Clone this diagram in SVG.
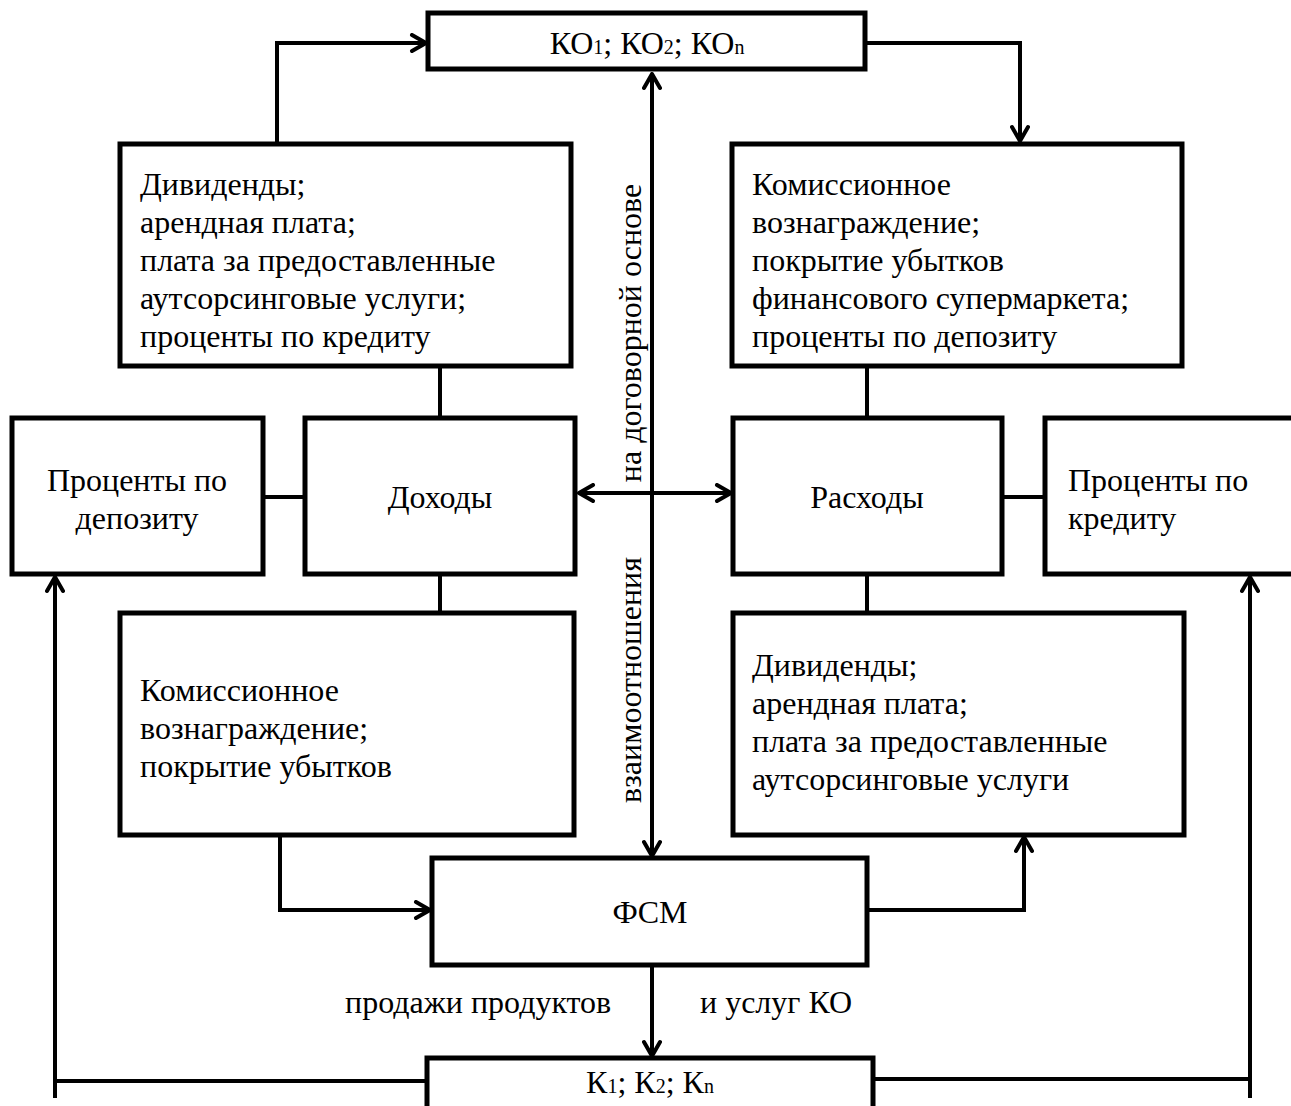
<svg xmlns="http://www.w3.org/2000/svg" width="1291" height="1106" viewBox="0 0 1291 1106">
<defs>
<marker id="ah" viewBox="0 0 20 20" refX="18" refY="10" markerWidth="20" markerHeight="20" markerUnits="userSpaceOnUse" orient="auto-start-reverse">
<path d="M4,2 L18,10 L4,18" fill="none" stroke="#000" stroke-width="4" stroke-linecap="round" stroke-linejoin="round"/>
</marker>
<style>
.box{fill:#fff;stroke:#000;stroke-width:5}
.ln{fill:none;stroke:#000;stroke-width:4}
text{font-family:"Liberation Serif","Times New Roman",serif;font-size:32px;fill:#000}
.c{text-anchor:middle}
.s{font-size:20px}
</style>
</defs>
<rect width="1291" height="1106" fill="#fff"/>
<g id="connectors">
<path class="ln" d="M277,143 V43 H426" marker-end="url(#ah)"/>
<path class="ln" d="M865,43 H1020 V141" marker-end="url(#ah)"/>
<path class="ln" d="M652,74 V856" marker-start="url(#ah)" marker-end="url(#ah)"/>
<path class="ln" d="M579,493 H731" marker-start="url(#ah)" marker-end="url(#ah)"/>
<path class="ln" d="M263,497 H305"/>
<path class="ln" d="M1002,497 H1045"/>
<path class="ln" d="M440,366 V418"/>
<path class="ln" d="M440,574 V613"/>
<path class="ln" d="M867,366 V418"/>
<path class="ln" d="M867,574 V613"/>
<path class="ln" d="M280,835 V910 H430" marker-end="url(#ah)"/>
<path class="ln" d="M867,910 H1024 V837" marker-end="url(#ah)"/>
<path class="ln" d="M652,965 V1056" marker-end="url(#ah)"/>
<path class="ln" d="M427,1081 H55"/>
<path class="ln" d="M55,1098 V577" marker-end="url(#ah)"/>
<path class="ln" d="M873,1079 H1250"/>
<path class="ln" d="M1250,1098 V577" marker-end="url(#ah)"/>
<text class="c" x="641" y="333" transform="rotate(-90 641 333)">на договорной основе</text>
<text class="c" x="641" y="680" transform="rotate(-90 641 680)">взаимоотношения</text>
<text x="345" y="1013">продажи продуктов</text>
<text x="700" y="1013">и услуг КО</text>
</g>
<g id="ko">
<rect class="box" x="428" y="13" width="437" height="56"/>
<text class="c" x="647" y="54">КО<tspan class="s">1</tspan>; КО<tspan class="s">2</tspan>; КО<tspan class="s">n</tspan></text>
</g>
<g id="inc-top">
<rect class="box" x="120" y="144" width="451" height="222"/>
<text x="140" y="195">Дивиденды;</text>
<text x="140" y="233">арендная плата;</text>
<text x="140" y="271">плата за предоставленные</text>
<text x="140" y="309">аутсорсинговые услуги;</text>
<text x="140" y="347">проценты по кредиту</text>
</g>
<g id="exp-top">
<rect class="box" x="732" y="144" width="450" height="222"/>
<text x="752" y="195">Комиссионное</text>
<text x="752" y="233">вознаграждение;</text>
<text x="752" y="271">покрытие убытков</text>
<text x="752" y="309">финансового супермаркета;</text>
<text x="752" y="347">проценты по депозиту</text>
</g>
<g id="dep">
<rect class="box" x="12" y="418" width="251" height="156"/>
<text class="c" x="137" y="491">Проценты по</text>
<text class="c" x="137" y="529">депозиту</text>
</g>
<g id="income">
<rect class="box" x="305" y="418" width="270" height="156"/>
<text class="c" x="440" y="508">Доходы</text>
</g>
<g id="expense">
<rect class="box" x="733" y="418" width="269" height="156"/>
<text class="c" x="867" y="508">Расходы</text>
</g>
<g id="cred">
<rect class="box" x="1045" y="418" width="252" height="156"/>
<text x="1068" y="491">Проценты по</text>
<text x="1068" y="529">кредиту</text>
</g>
<g id="inc-bot">
<rect class="box" x="120" y="613" width="454" height="222"/>
<text x="140" y="701">Комиссионное</text>
<text x="140" y="739">вознаграждение;</text>
<text x="140" y="777">покрытие убытков</text>
</g>
<g id="exp-bot">
<rect class="box" x="733" y="613" width="451" height="222"/>
<text x="752" y="676">Дивиденды;</text>
<text x="752" y="714">арендная плата;</text>
<text x="752" y="752">плата за предоставленные</text>
<text x="752" y="790">аутсорсинговые услуги</text>
</g>
<g id="fsm">
<rect class="box" x="432" y="858" width="435" height="107"/>
<text class="c" x="650" y="923">ФСМ</text>
</g>
<g id="k">
<rect class="box" x="427" y="1058" width="446" height="60"/>
<text class="c" x="650" y="1093">К<tspan class="s">1</tspan>; К<tspan class="s">2</tspan>; К<tspan class="s">n</tspan></text>
</g>
</svg>
